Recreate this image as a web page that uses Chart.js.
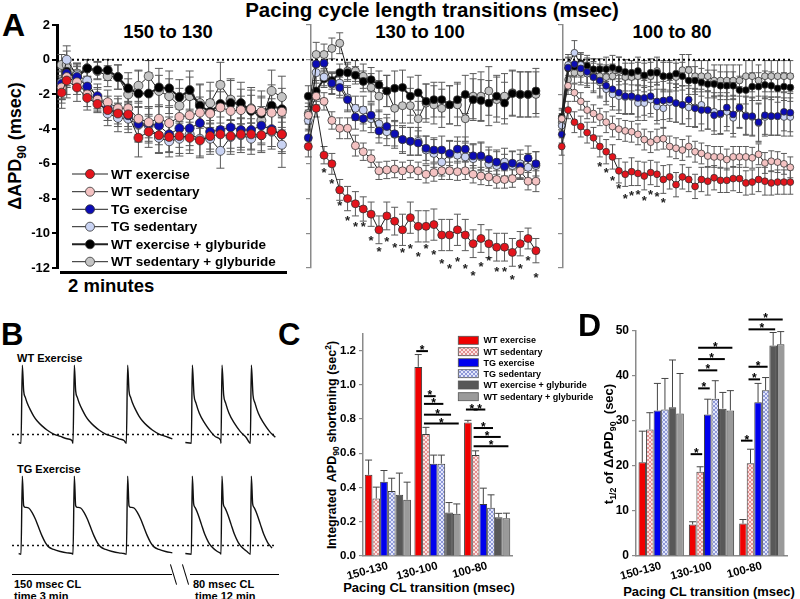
<!DOCTYPE html>
<html>
<head>
<meta charset="utf-8">
<title>APD90 shortening with pacing transitions</title>
<script src="https://cdn.jsdelivr.net/npm/chart.js@4.4.1/dist/chart.umd.min.js"></script>
<style>
  body { margin: 0; width: 800px; height: 599px; overflow: hidden; position: relative; background: #fff;
         font-family: "Liberation Sans", Arial, sans-serif; font-weight: bold; color: #000; }
  canvas { position: absolute; }
  .lbl { position: absolute; white-space: nowrap; line-height: 1; }
  .ctr { position: absolute; white-space: nowrap; line-height: 1; transform: translateX(-50%); }
  .rot { position: absolute; white-space: nowrap; line-height: 1; transform: translate(-50%, -50%) rotate(-90deg); }
  sub, sup { font-size: 68%; line-height: 0; }
  .rule { position: absolute; height: 0; border-top: 1.5px solid #000; }
  .brk { position: absolute; width: 0; height: 21px; border-left: 1.3px solid #000; transform: rotate(-17deg); }
</style>
</head>
<body>

<div class="ctr" style="left:432px;top:0px;font-size:20.5px">Pacing cycle length transitions (msec)</div>
<div class="lbl" style="left:2px;top:9px;font-size:32px">A</div>
<div class="ctr" style="left:168px;top:23px;font-size:18.5px">150 to 130</div>
<div class="ctr" style="left:420px;top:23px;font-size:18.5px">130 to 100</div>
<div class="ctr" style="left:672px;top:23px;font-size:18.5px">100 to 80</div>
<div class="rot" style="left:15px;top:146px;font-size:18px">&Delta;APD<sub>90</sub> (msec)</div>
<div class="rule" style="left:60px;top:271px;width:227px;border-top-width:3px"></div>
<div class="lbl" style="left:68px;top:277px;font-size:18.5px">2 minutes</div>

<canvas id="a1" width="310" height="270" style="left:0;top:10px"></canvas>
<canvas id="a2" width="263" height="270" style="left:300px;top:10px"></canvas>
<canvas id="a3" width="247" height="270" style="left:553px;top:10px"></canvas>

<div class="lbl" style="left:1px;top:319px;font-size:31px">B</div>
<div class="lbl" style="left:17px;top:353px;font-size:11px">WT Exercise</div>
<div class="lbl" style="left:17px;top:464px;font-size:11px">TG Exercise</div>
<canvas id="b1" width="265" height="90" style="left:12px;top:360px"></canvas>
<canvas id="b2" width="265" height="90" style="left:12px;top:471px"></canvas>
<div class="rule" style="left:12px;top:574px;width:160px"></div>
<div class="rule" style="left:190px;top:574px;width:89px"></div>
<div class="brk" style="left:173px;top:564px"></div>
<div class="brk" style="left:185px;top:564px"></div>
<div class="lbl" style="left:14px;top:579px;font-size:11px">150 msec CL</div>
<div class="lbl" style="left:14px;top:591px;font-size:11px">time 3 min</div>
<div class="lbl" style="left:193px;top:579px;font-size:11px">80 msec CL</div>
<div class="lbl" style="left:195px;top:591px;font-size:11px">time 12 min</div>

<div class="lbl" style="left:278px;top:319px;font-size:31px">C</div>
<div class="rot" style="left:332px;top:445px;font-size:12.5px">Integrated&nbsp; APD<sub>90</sub> shortening (sec<sup>2</sup>)</div>
<div class="ctr" style="left:429px;top:581px;font-size:13px">Pacing CL transition (msec)</div>
<canvas id="c" width="310" height="299" style="left:300px;top:300px"></canvas>

<div class="lbl" style="left:578px;top:309px;font-size:32px">D</div>
<div class="rot" style="left:608px;top:444px;font-size:13px">t<sub>1/2</sub> of &Delta;APD<sub>90</sub>&nbsp; (sec)</div>
<div class="ctr" style="left:709px;top:585px;font-size:13px">Pacing CL transition (msec)</div>
<canvas id="d" width="200" height="299" style="left:600px;top:300px"></canvas>

<script>
// ---------- Panel A: change in APD90 (msec) after each pacing transition ----------
const seriesNames = ["WT exercise", "WT sedentary", "TG exercise", "TG sedentary",
                     "WT exercise + glyburide", "WT sedentary + glyburide"];

// 150 -> 130 msec (sample index; first two samples are half a step apart)
const a1Time = [0, 0.5, 1.5, 2.5, 3.5, 4.5, 5.5, 6.5, 7.5, 8.5, 9.5, 10.5, 11.5, 12.5, 13.5, 14.5, 15.5, 16.5, 17.5, 18.5, 19.5, 20.5, 21.5];
const a1WtEx   = [-1.9,-1.2,-1.6,-2.2,-2.55,-2.9,-3.1,-3.15,-4.5,-4.15,-4.35,-4.45,-4.4,-4.5,-4.65,-4.4,-4.3,-4.4,-4.3,-4.3,-4.35,-4.1,-4.3];
const a1WtSed  = [-1.6,-1.0,-1.3,-2.0,-2.3,-2.45,-2.8,-2.8,-3.4,-3.6,-3.4,-3.65,-3.3,-3.2,-3.05,-3.1,-2.75,-2.95,-2.9,-2.85,-3.0,-3.05,-3.0];
const a1TgEx   = [-1.4,-0.8,-1.0,-1.55,-2.1,-2.8,-3.05,-3.2,-3.7,-3.7,-3.8,-4.3,-3.95,-3.95,-3.65,-4.15,-4.05,-3.9,-4.05,-4.05,-3.8,-4.0,-4.3];
const a1TgSed  = [-1.3,0.0,-0.9,-1.2,-2.3,-3.1,-3.35,-3.4,-3.75,-3.8,-4.5,-4.7,-4.55,-4.3,-4.55,-4.55,-5.25,-4.45,-4.35,-4.55,-4.35,-4.15,-4.9];
const a1WtExG  = [-1.45,-0.7,-1.0,-0.5,-0.6,-0.6,-1.0,-1.65,-1.95,-1.95,-1.6,-1.65,-2.15,-1.75,-2.65,-3.0,-2.55,-2.5,-2.5,-2.95,-3.1,-2.65,-2.85];
const a1WtSedG = [-0.3,-0.3,-0.8,-0.5,-0.65,-0.95,-1.0,-2.0,-1.5,-0.95,-1.8,-2.1,-2.65,-2.1,-2.5,-2.5,-1.45,-2.3,-2.8,-2.8,-3.5,-1.8,-2.15];
const a1WtExErr   = [0.9,1.0,0.8,0.7,0.5,0.6,0.6,0.7,1.1,0.9,1.0,0.9,1.0,0.9,1.0,0.9,1.0,0.9,0.9,0.9,1.0,0.9,1.0];
const a1WtSedErr  = [0.9,1.0,0.7,0.7,0.6,0.7,0.7,0.7,0.9,0.9,0.8,0.9,0.8,0.9,0.9,0.8,0.9,0.8,0.8,0.8,0.9,0.8,0.9];
const a1TgExErr   = [0.9,0.8,0.7,0.6,0.7,0.7,0.8,0.8,1.0,1.0,1.1,1.0,1.1,1.0,1.1,1.0,1.1,1.2,1.0,1.1,1.1,1.0,1.1];
const a1TgSedErr  = [1.0,0.8,0.7,0.6,0.7,0.7,0.8,0.8,1.0,1.0,0.9,0.9,1.0,0.9,1.0,0.9,1.0,1.0,1.0,0.9,0.9,1.0,1.3];
const a1WtExGErr  = [0.8,0.8,0.6,0.5,0.5,0.6,0.7,0.9,1.3,1.2,1.1,1.0,1.0,1.1,1.2,1.2,1.3,1.3,1.2,1.2,1.3,1.2,1.2];
const a1WtSedGErr = [0.6,0.8,0.6,0.5,0.5,0.6,0.7,0.9,0.9,0.9,0.9,1.0,1.0,1.1,1.1,1.2,1.3,1.2,1.1,1.2,1.3,1.2,1.2];

// 130 -> 100 msec
const a2WtEx   = [-5.0,-2.8,-5.5,-6.0,-7.5,-8.0,-8.3,-8.6,-8.9,-9.8, -9.0,-9.3,-9.8,-9.1,-9.6,-9.6,-9.5,-10.1,-10.1,-9.8, -10.1,-10.6,-10.3,-10.6,-10.8,-10.8,-11.1,-10.6,-10.3,-11.0];
const a2WtSed  = [-3.2,-2.1,-2.4,-3.5,-3.95,-3.95,-4.95,-5.3,-5.7,-6.4, -6.35,-6.3,-6.4,-6.3,-6.4,-6.6,-6.5,-6.4,-6.4,-6.45, -6.4,-6.6,-6.7,-6.75,-6.9,-6.9,-6.85,-6.4,-7.0,-7.0];
const a2TgEx   = [-4.5,-0.25,-0.2,-1.35,-1.6,-2.3,-3.3,-3.4,-3.2,-4.1, -3.85,-4.27,-4.6,-4.7,-4.8,-5.1,-5.2,-5.2,-5.4,-5.15, -5.15,-5.54,-5.54,-5.73,-5.9,-6.15,-5.96,-6.15,-5.67,-6.0];
const a2TgSed  = [-3.5,-0.75,-1.0,-1.4,-1.35,-2.2,-2.8,-2.9,-3.4,-3.7, -4.15,-4.3,-4.6,-4.7,-4.7,-5.2,-5.4,-5.9,-5.45,-5.5, -5.6,-5.7,-5.6,-6.0,-6.1,-5.9,-6.1,-6.0,-6.2,-6.1];
const a2WtExG  = [-2.1,-1.8,-1.1,-1.2,-0.75,-0.75,-0.9,-1.25,-1.15,-1.45, -1.8,-1.65,-1.6,-2.1,-1.9,-2.4,-2.3,-2.3,-2.6,-2.3, -2.0,-2.3,-2.35,-2.5,-2.1,-2.5,-1.95,-2.0,-2.0,-1.8];
const a2WtSedG = [-3.1,0.3,0.3,0.65,0.95,-0.65,-0.65,-0.95,-1.6,-2.1, -1.8,-2.8,-2.65,-2.65,-3.4,-2.5,-2.6,-2.8,-2.6,-2.6, -3.4,-2.1,-2.1,-1.8,-2.3,-2.1,-1.9,-2.0,-2.0,-2.0];
const a2WtExErr   = [0.6,0.5,0.5,0.6,0.6,0.7,0.7,0.7,0.7,0.8, 0.8,0.8,0.9,0.9,0.9,0.9,0.9,0.9,0.9,0.9, 0.9,0.8,0.8,0.8,0.8,0.8,0.8,0.7,0.6,0.7];
const a2WtSedErr  = [0.5,0.5,0.5,0.5,0.6,0.6,0.6,0.5,0.5,0.5, 0.5,0.5,0.5,0.5,0.5,0.5,0.5,0.5,0.5,0.5, 0.5,0.5,0.5,0.5,0.5,0.5,0.5,0.5,0.5,0.6];
const a2TgExErr   = [0.5,0.5,0.5,0.6,0.6,0.7,0.7,0.7,0.7,0.7, 0.7,0.7,0.7,0.8,0.7,0.7,0.7,0.8,0.7,0.7, 0.7,0.7,0.8,0.7,0.7,0.7,0.7,0.7,0.7,0.7];
const a2TgSedErr  = [0.6,0.6,0.5,0.6,0.7,0.7,0.7,0.8,0.8,0.8, 0.8,0.8,0.8,0.8,0.8,0.8,0.8,0.8,0.8,0.8, 0.8,0.8,0.8,0.8,0.8,0.8,0.8,0.8,0.8,0.8];
const a2WtExGErr  = [0.6,0.6,0.5,0.5,0.5,0.5,0.5,0.6,0.7,0.8, 0.9,1.0,1.0,1.1,1.0,1.0,1.0,1.0,1.1,1.0, 1.1,1.2,1.2,1.3,1.2,1.2,1.3,1.3,1.3,1.3];
const a2WtSedGErr = [0.6,0.7,0.6,0.6,0.6,0.5,0.6,0.7,0.8,0.9, 0.9,1.0,1.0,1.0,1.0,1.1,1.1,1.1,1.1,1.2, 1.3,1.3,1.4,1.4,1.3,1.3,1.3,1.3,1.3,1.3];
const a2StarIdx = [2,3,4,5,6,7,8,9,10,11,12,13,14,15,16,17,18,19,20,21,22,23,24,25,26,27,28,29];
const a2StarAt  = [-6.35,-6.98,-8.23,-9.1,-9.46,-9.46,-10.25,-10.9,-10.35,-10.67,-10.96,-10.73,-11.19,-10.71,-11.1,-11.6,-11.87,-11.5,-11.87,-12.27,-11.79,-11.44,-12.08,-12.08,-12.5,-11.87,-11.4,-12.4];

// 100 -> 80 msec
const a3WtEx   = [-5.0,-2.9,-3.6,-3.85,-4.2,-4.5,-5.0,-5.3,-5.6,-6.4, -6.6,-6.45,-6.55,-6.7,-6.5,-6.6,-6.9,-6.75,-7.2,-6.75, -6.9,-7.3,-6.9,-7.0,-6.8,-6.95,-6.95,-6.85,-6.85,-7.1, -7.05,-6.9,-7.0,-7.1,-7.05,-7.05,-7.05];
const a3WtSed  = [-3.4,-1.5,-1.9,-2.4,-2.9,-3.1,-3.3,-3.6,-3.85,-4.0, -4.1,-4.15,-4.3,-4.6,-4.75,-4.6,-4.55,-5.0,-5.1,-5.2, -5.0,-5.3,-5.4,-5.55,-5.6,-5.6,-5.75,-5.6,-5.6,-5.6, -5.65,-5.45,-5.95,-5.85,-5.9,-6.0,-6.2];
const a3TgEx   = [-4.3,-0.45,-0.25,-0.5,-0.7,-1.0,-1.2,-1.5,-1.7,-1.9, -2.1,-2.1,-2.2,-2.2,-2.1,-2.4,-2.35,-2.3,-2.5,-2.6, -2.3,-2.8,-2.9,-2.9,-3.2,-3.1,-2.75,-3.15,-2.75,-3.25, -3.25,-3.6,-3.2,-3.25,-3.25,-3.0,-3.05];
const a3TgSed  = [-3.8,-0.3,0.4,-0.3,-0.8,-1.0,-1.3,-1.7,-2.0,-2.1, -2.15,-2.15,-2.5,-2.5,-2.3,-2.7,-2.8,-2.45,-2.5,-2.6, -2.75,-2.75,-2.6,-2.9,-3.0,-3.15,-3.0,-3.35,-2.8,-3.2, -3.3,-3.65,-3.3,-3.25,-3.25,-3.3,-3.3];
const a3WtExG  = [-3.3,-0.5,-0.4,-0.2,-0.35,-0.55,-0.55,-0.55,-0.45,-0.55, -0.7,-0.75,-0.65,-0.9,-0.75,-0.75,-0.95,-0.95,-0.8,-0.95, -1.2,-1.2,-1.3,-1.4,-1.4,-1.5,-1.5,-1.5,-1.75,-1.75, -1.55,-1.55,-1.45,-1.5,-1.65,-1.55,-1.6];
const a3WtSedG = [-3.6,-1.15,-0.75,-0.75,-0.75,-0.65,-0.95,-1.0,-0.95,-0.65, -1.0,-1.0,-0.95,-0.95,-0.95,-0.65,-0.95,-0.95,-1.0,-0.6, -0.6,-0.95,-0.95,-0.95,-1.2,-1.2,-1.2,-1.2,-1.2,-0.95, -0.95,-1.2,-0.95,-0.95,-0.95,-0.95,-0.95];
const a3WtExErr   = [0.5,0.5,0.6,0.6,0.6,0.6,0.6,0.7,0.7,0.7, 0.7,0.8,0.7,0.8,0.7,0.7,0.8,0.7,0.7,0.7, 0.7,0.7,0.7,0.8,0.7,0.7,0.7,0.7,0.8,0.7, 0.7,0.7,0.8,0.7,0.7,0.7,0.7];
const a3WtSedErr  = [0.5,0.5,0.5,0.5,0.5,0.5,0.5,0.6,0.6,0.6, 0.6,0.6,0.6,0.6,0.6,0.6,0.6,0.6,0.6,0.6, 0.6,0.6,0.6,0.6,0.6,0.6,0.6,0.6,0.6,0.6, 0.6,0.6,0.6,0.6,0.6,0.6,0.6];
const a3TgExErr   = [0.5,0.6,0.7,0.8,0.8,0.9,0.9,0.9,1.0,1.0, 1.0,1.0,1.1,1.0,1.0,1.1,1.1,1.1,1.1,1.1, 1.1,1.1,1.2,1.1,1.1,1.2,1.1,1.1,1.2,1.1, 1.1,1.1,1.1,1.1,1.1,1.1,1.1];
const a3TgSedErr  = [0.5,0.6,0.7,0.7,0.8,0.8,0.9,0.9,0.9,1.0, 1.0,1.0,1.0,1.0,1.0,1.0,1.1,1.1,1.1,1.1, 1.1,1.1,1.1,1.1,1.1,1.1,1.1,1.1,1.1,1.1, 1.1,1.1,1.1,1.1,1.1,1.1,1.1];
const a3WtExGErr  = [0.5,0.6,0.6,0.6,0.6,0.6,0.6,0.7,0.7,0.7, 0.7,0.7,0.8,0.7,0.8,0.7,0.8,0.8,0.8,0.8, 0.8,0.8,0.8,0.8,0.8,0.8,0.8,0.8,0.8,0.8, 0.8,0.8,0.8,0.8,0.8,0.8,0.8];
const a3WtSedGErr = [0.5,0.6,0.6,0.7,0.6,0.7,0.7,0.7,0.7,0.8, 0.8,0.8,0.8,0.9,0.8,0.8,0.9,0.9,0.8,0.9, 0.9,0.9,0.9,0.9,0.9,0.9,0.9,0.9,0.9,0.9, 0.9,0.9,0.9,0.9,0.9,0.9,0.9];
const a3StarIdx = [6,7,8,9,10,11,12,13,14,15,16];
const a3StarAt  = [-6.0,-6.38,-6.83,-7.25,-7.85,-7.7,-7.65,-7.98,-7.6,-7.75,-8.1];

const aTicks = [2, 0, -2, -4, -6, -8, -10, -12];

// ---------- Panel B: action potential samples (time in ms from upstroke, mV) ----------
const apOnsetSlow = [62, 218, 378];   // 150 msec CL
const apOnsetFast = [573, 662, 750];  // 80 msec CL
const apRest = -84;
const wtSlowT = [0, 4, 8, 13, 18, 28, 38, 48, 63, 78, 98, 118, 138, 153];
const wtSlowV = [-85, 30, -8, -17.5, -25, -36, -45, -52, -59.5, -65.5, -71.5, -75, -78.5, -81];
const wtFastT = [0, 3, 8, 14, 24, 40, 58, 75, 88];
const wtFastV = [-85, 30, -14, -26, -41, -55.6, -67.9, -76.2, -81];
const tgSlowT = [0, 4, 8, 13, 23, 33, 43, 53, 63, 73, 83, 98, 118, 138, 153];
const tgSlowV = [-85, 30, -13.6, -16, -17, -23.4, -33.3, -45.6, -58, -67.8, -74.2, -78, -81, -83, -84];
const tgFastT = [0, 3, 7, 11, 20, 30, 40, 52, 65, 78, 88];
const tgFastV = [-85, 30, -11, -16, -26, -40.7, -55.4, -67.8, -76, -81, -84];
const apd90Level = -72;

// ---------- Panels C and D ----------
const barCats = ["150-130", "130-100", "100-80"];
const cWtEx   = [0.474, 1.104, 0.780];  const cWtExErr   = [0.086, 0.072, 0.012];
const cWtSed  = [0.336, 0.712, 0.589];  const cWtSedErr  = [0.066, 0.039, 0.025];
const cTgEx   = [0.433, 0.539, 0.304];  const cTgExErr   = [0.066, 0.050, 0.092];
const cTgSed  = [0.380, 0.539, 0.281];  const cTgSedErr  = [0.074, 0.050, 0.076];
const cWtExG  = [0.357, 0.254, 0.226];  const cWtExGErr  = [0.127, 0.058, 0.023];
const cWtSedG = [0.328, 0.246, 0.220];  const cWtSedGErr = [0.103, 0.058, 0.030];
const cSig = [
  {c: 1, a: 0, b: 1, v: 1.196}, {c: 1, a: 1, b: 2, v: 0.933}, {c: 1, a: 1, b: 3, v: 0.888},
  {c: 1, a: 1, b: 4, v: 0.825}, {c: 1, a: 1, b: 5, v: 0.773},
  {c: 2, a: 0, b: 1, v: 0.855}, {c: 2, a: 1, b: 2, v: 0.855}, {c: 2, a: 1, b: 3, v: 0.747},
  {c: 2, a: 1, b: 4, v: 0.695}, {c: 2, a: 1, b: 5, v: 0.640}
];

const dWtEx   = [20.8, 7.0, 7.2];    const dWtExErr   = [6.9, 0.6, 0.9];
const dWtSed  = [28.1, 18.7, 20.6];  const dWtSedErr  = [3.7, 1.1, 3.1];
const dTgEx   = [32.3, 31.4, 34.1];  const dTgExErr   = [6.0, 3.4, 4.2];
const dTgSed  = [32.5, 34.9, 36.8];  const dTgSedErr  = [6.9, 4.0, 2.8];
const dWtExG  = [33.0, 32.7, 46.7];  const dWtExGErr  = [10.5, 3.6, 2.9];
const dWtSedG = [31.6, 32.3, 47.0];  const dWtSedGErr = [8.9, 4.4, 2.8];
const dSig = [
  {c: 1, a: 0, b: 1, v: 22.6}, {c: 1, a: 1, b: 2, v: 37.2}, {c: 1, a: 1, b: 3, v: 41.2},
  {c: 1, a: 1, b: 4, v: 43.7}, {c: 1, a: 1, b: 5, v: 46.2},
  {c: 2, a: 0, b: 1, v: 25.6}, {c: 2, a: 1, b: 2, v: 39.2}, {c: 2, a: 1, b: 3, v: 42.0},
  {c: 2, a: 1, b: 4, v: 50.3}, {c: 2, a: 1, b: 5, v: 52.5}
];

// ---------- styling ----------
const FONT = '"Liberation Sans", Arial, sans-serif';
Chart.defaults.font.family = FONT;
Chart.defaults.font.weight = 'bold';
Chart.defaults.color = '#000';
Chart.defaults.animation = false;
Chart.defaults.plugins.legend.display = false;
Chart.defaults.plugins.tooltip.enabled = false;

const dotColors = ['#e3141c', '#f4c2c2', '#0c0cb4', '#c9d3f3', '#000000', '#c4c4c4'];

function hatch(bg, fg) {
  const c = document.createElement('canvas');
  c.width = 4; c.height = 4;
  const g = c.getContext('2d');
  g.fillStyle = bg; g.fillRect(0, 0, 4, 4);
  g.strokeStyle = fg; g.lineWidth = 1;
  g.beginPath();
  g.moveTo(0, 4); g.lineTo(4, 0);
  g.moveTo(0, 0); g.lineTo(4, 4);
  g.stroke();
  return g.createPattern(c, 'repeat');
}
const barColors = ['#f00000', hatch('#fbe2e2', '#e39090'), '#0000ee', hatch('#e2e6fb', '#8e98d8'), '#585858', '#9a9a9a'];

// ---------- plugins ----------
function drawErrors(chart, o) {
  const ctx = chart.ctx;
  chart.data.datasets.forEach((ds, i) => {
    if (!ds.errors) return;
    const meta = chart.getDatasetMeta(i);
    const ys = chart.scales[meta.yAxisID];
    ctx.save();
    ctx.strokeStyle = o.color || '#555';
    ctx.lineWidth = o.width || 1;
    ctx.beginPath();
    meta.data.forEach((el, j) => {
      const e = ds.errors[j];
      const raw = ds.data[j];
      const v = typeof raw === 'object' ? raw.y : raw;
      const x = el.x;
      const top = ys.getPixelForValue(v + e);
      const bot = o.upOnly ? ys.getPixelForValue(v) : ys.getPixelForValue(v - e);
      ctx.moveTo(x, top); ctx.lineTo(x, bot);
      ctx.moveTo(x - o.cap, top); ctx.lineTo(x + o.cap, top);
      if (!o.upOnly) { ctx.moveTo(x - o.cap, bot); ctx.lineTo(x + o.cap, bot); }
    });
    ctx.stroke();
    ctx.restore();
  });
}
const errorBars = {
  id: 'errorBars',
  beforeDatasetsDraw(chart, args, o) { if (o.under) drawErrors(chart, o); },
  afterDatasetsDraw(chart, args, o) { if (!o.under) drawErrors(chart, o); }
};

const starMarks = {
  id: 'starMarks',
  afterDatasetsDraw(chart, args, o) {
    if (!o.idx) return;
    const ctx = chart.ctx, xs = chart.scales.x, ys = chart.scales.y;
    ctx.save();
    ctx.fillStyle = '#222';
    ctx.font = 'bold 13px ' + FONT;
    ctx.textAlign = 'center';
    o.idx.forEach((k, n) => ctx.fillText('*', xs.getPixelForValue(k), ys.getPixelForValue(o.at[n]) + 7));
    ctx.restore();
  }
};

const dotLegend = {
  id: 'dotLegend',
  afterDraw(chart, args, o) {
    if (!o.rows) return;
    const ctx = chart.ctx;
    chart.data.datasets.forEach((ds, i) => {
      if (o.rows[i] == null) return;
      const y = o.rows[i];
      ctx.save();
      ctx.strokeStyle = '#222';
      ctx.lineWidth = ds.borderWidth;
      ctx.beginPath(); ctx.moveTo(o.x0, y); ctx.lineTo(o.x1, y); ctx.stroke();
      ctx.beginPath(); ctx.arc((o.x0 + o.x1) / 2, y, o.r, 0, Math.PI * 2);
      ctx.fillStyle = ds.pointBackgroundColor; ctx.fill();
      ctx.lineWidth = 0.8; ctx.strokeStyle = '#333'; ctx.stroke();
      ctx.fillStyle = '#000';
      ctx.font = 'bold ' + o.size + 'px ' + FONT;
      ctx.textBaseline = 'middle';
      ctx.fillText(ds.label, o.tx, y + 1);
      ctx.restore();
    });
  }
};

const swatchLegend = {
  id: 'swatchLegend',
  afterDraw(chart, args, o) {
    if (!o.rows) return;
    const ctx = chart.ctx;
    chart.data.datasets.forEach((ds, i) => {
      const y = o.rows[i];
      ctx.save();
      ctx.fillStyle = ds.backgroundColor;
      ctx.fillRect(o.x, y - o.h / 2, o.w, o.h);
      ctx.strokeStyle = '#555'; ctx.lineWidth = 0.8;
      ctx.strokeRect(o.x, y - o.h / 2, o.w, o.h);
      ctx.fillStyle = '#000';
      ctx.font = 'bold ' + o.size + 'px ' + FONT;
      ctx.textBaseline = 'middle';
      ctx.fillText(ds.label, o.tx, y + 0.5);
      ctx.restore();
    });
  }
};

const sigBrackets = {
  id: 'sigBrackets',
  afterDatasetsDraw(chart, args, o) {
    if (!o.list) return;
    const ctx = chart.ctx, ys = chart.scales.y;
    ctx.save();
    ctx.strokeStyle = '#000'; ctx.fillStyle = '#000'; ctx.lineWidth = 2;
    ctx.font = 'bold 12px ' + FONT;
    ctx.textAlign = 'center';
    o.list.forEach(s => {
      const xa = chart.getDatasetMeta(s.a).data[s.c].x - o.ext;
      const xb = chart.getDatasetMeta(s.b).data[s.c].x + o.ext;
      const y = ys.getPixelForValue(s.v);
      ctx.beginPath(); ctx.moveTo(xa, y); ctx.lineTo(xb, y); ctx.stroke();
      ctx.fillText('*', (xa + xb) / 2, y + 3);
    });
    ctx.restore();
  }
};

// ---------- panel A charts ----------
function segChart(id, xs, vals, errs, opt) {
  const pts = v => v.map((y, i) => ({x: xs ? xs[i] : i, y: y}));
  const datasets = vals.map((v, i) => ({
    label: seriesNames[i],
    data: pts(v),
    errors: errs[i],
    borderColor: '#222',
    borderWidth: i === 4 ? 2 : 1,
    pointRadius: opt.r,
    pointBackgroundColor: dotColors[i],
    pointBorderColor: '#333',
    pointBorderWidth: 0.8,
    clip: false
  }));
  datasets.push({
    data: [{x: opt.xmin, y: 0}, {x: opt.zeroEnd, y: 0}],
    borderColor: '#000', borderWidth: 2, borderDash: [2, 3], pointRadius: 0
  });
  return new Chart(document.getElementById(id), {
    type: 'line',
    data: {datasets: datasets},
    options: {
      responsive: false,
      layout: {padding: {top: 15, bottom: 12, left: 0, right: 0}},
      scales: {
        x: {type: 'linear', display: false, min: opt.xmin, max: opt.xmax},
        y: {
          type: 'linear', min: -12, max: 2,
          afterBuildTicks: s => { s.ticks = aTicks.map(v => ({value: v})); },
          ticks: {display: opt.labels, font: {size: 13, weight: 'bold'}, color: '#000', padding: 2},
          grid: {drawOnChartArea: false, tickLength: 5, color: opt.axis, lineWidth: opt.labels ? 2 : 1.2},
          border: {color: opt.axis, width: opt.labels ? 3 : 1.5},
          afterFit: s => { s.width = opt.axisW; }
        }
      },
      plugins: {
        errorBars: {under: true, cap: opt.cap, color: '#5a5a5a', width: 1},
        starMarks: opt.stars || {},
        dotLegend: opt.legend || {}
      }
    },
    plugins: [errorBars, starMarks, dotLegend]
  });
}

segChart('a1', a1Time,
  [a1WtEx, a1WtSed, a1TgEx, a1TgSed, a1WtExG, a1WtSedG],
  [a1WtExErr, a1WtSedErr, a1TgExErr, a1TgSedErr, a1WtExGErr, a1WtSedGErr],
  {r: 4.5, cap: 4, xmin: -0.45, xmax: 23.73, zeroEnd: 23.73, labels: true, axis: '#000', axisW: 57,
   legend: {rows: [164, 181.7, 199.3, 216.7, 234.3, 251.7], x0: 72, x1: 108, r: 4.5, tx: 111, size: 13.5}});

segChart('a2', null,
  [a2WtEx, a2WtSed, a2TgEx, a2TgSed, a2WtExG, a2WtSedG],
  [a2WtExErr, a2WtSedErr, a2TgExErr, a2TgSedErr, a2WtExGErr, a2WtSedGErr],
  {r: 4, cap: 3.5, xmin: 0.34, xmax: 31.84, zeroEnd: 31.84, labels: false, axis: '#8a8a8a', axisW: 11,
   stars: {idx: a2StarIdx, at: a2StarAt}});

segChart('a3', null,
  [a3WtEx, a3WtSed, a3TgEx, a3TgSed, a3WtExG, a3WtSedG],
  [a3WtExErr, a3WtSedErr, a3TgExErr, a3TgSedErr, a3WtExGErr, a3WtSedGErr],
  {r: 3.4, cap: 3, xmin: 0.2, xmax: 36.77, zeroEnd: 36.0, labels: false, axis: '#8a8a8a', axisW: 10,
   stars: {idx: a3StarIdx, at: a3StarAt}});

// ---------- panel B charts ----------
function trace(start, end, onsets, T, V) {
  const pts = [{x: start, y: apRest}];
  onsets.forEach((o, k) => {
    const next = k < onsets.length - 1 ? onsets[k + 1] : end + 1;
    T.forEach((t, i) => { if (o + t < next) pts.push({x: o + t, y: V[i]}); });
  });
  return pts;
}
function apChart(id, slowT, slowV, fastT, fastV) {
  const line = d => ({data: d, borderColor: '#111', borderWidth: 1.4, pointRadius: 0, cubicInterpolationMode: 'monotone'});
  return new Chart(document.getElementById(id), {
    type: 'line',
    data: {datasets: [
      line(trace(55, 520, apOnsetSlow, slowT, slowV)),
      line(trace(555, 825, apOnsetFast, fastT, fastV)),
      {data: [{x: 35, y: apd90Level}, {x: 825, y: apd90Level}], borderColor: '#111', borderWidth: 1.5, borderDash: [2, 3], pointRadius: 0}
    ]},
    options: {
      responsive: false,
      layout: {padding: 0},
      scales: {
        x: {type: 'linear', display: false, min: 35, max: 830},
        y: {type: 'linear', display: false, min: -95, max: 37.5}
      }
    }
  });
}
apChart('b1', wtSlowT, wtSlowV, wtFastT, wtFastV);
apChart('b2', tgSlowT, tgSlowV, tgFastT, tgFastV);

// ---------- panels C and D ----------
function barChart(id, vals, errs, opt) {
  const datasets = vals.map((v, i) => ({
    label: seriesNames[i],
    data: v,
    errors: errs[i],
    backgroundColor: barColors[i],
    borderColor: '#3c3c3c',
    borderWidth: 1,
    categoryPercentage: opt.catPct,
    barPercentage: 1.0
  }));
  return new Chart(document.getElementById(id), {
    type: 'bar',
    data: {labels: barCats, datasets: datasets},
    options: {
      responsive: false,
      layout: {padding: opt.pad},
      scales: {
        x: {
          grid: {display: false, drawTicks: false},
          border: {color: '#8a8a8a', width: 1.5},
          ticks: {font: {size: 11.5, weight: 'bold'}, color: '#000', minRotation: 15, maxRotation: 15, padding: 3},
          afterFit: s => { s.height = 43; }
        },
        y: {
          min: 0, max: opt.max,
          ticks: {stepSize: opt.step, includeBounds: false, font: {size: opt.tickSize, weight: 'bold'}, color: '#000', padding: 3,
                  callback: v => opt.decimals ? v.toFixed(opt.decimals) : String(Math.round(v))},
          grid: {drawOnChartArea: false, tickLength: 4, color: '#8a8a8a', lineWidth: 1.2},
          border: {color: '#8a8a8a', width: 1.5},
          afterFit: s => { s.width = opt.axisW; }
        }
      },
      plugins: {
        errorBars: {under: false, upOnly: true, cap: 3.5, color: '#444', width: 1},
        sigBrackets: {list: opt.sig, ext: 2},
        swatchLegend: opt.legend || {}
      }
    },
    plugins: [errorBars, sigBrackets, swatchLegend]
  });
}

barChart('c',
  [cWtEx, cWtSed, cTgEx, cTgSed, cWtExG, cWtSedG],
  [cWtExErr, cWtSedErr, cTgExErr, cTgSedErr, cWtExGErr, cWtSedGErr],
  {max: 1.3, step: 0.2, decimals: 1, tickSize: 11.5, axisW: 63, catPct: 0.93,
   pad: {left: 0, top: 33.3, right: 98, bottom: 0}, sig: cSig,
   legend: {rows: [40.3, 51.7, 62.7, 73.7, 85, 96.7], x: 158.3, w: 20, h: 8, tx: 183.5, size: 9}});

barChart('d',
  [dWtEx, dWtSed, dTgEx, dTgSed, dWtExG, dWtSedG],
  [dWtExErr, dWtSedErr, dTgExErr, dTgSedErr, dWtExGErr, dWtSedGErr],
  {max: 50, step: 10, decimals: 0, tickSize: 12, axisW: 36, catPct: 0.9,
   pad: {left: 0, top: 30.7, right: 13, bottom: 0}, sig: dSig});
</script>
</body>
</html>
